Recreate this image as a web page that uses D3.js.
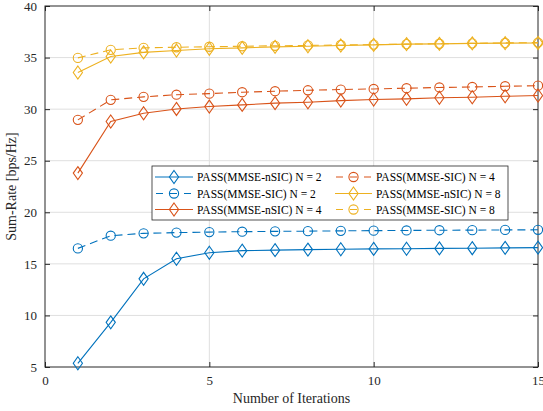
<!DOCTYPE html>
<html><head><meta charset="utf-8">
<script src="https://cdn.jsdelivr.net/npm/d3@7"></script>
<style>body{margin:0;background:#fff}svg{display:block}text{font-family:"Liberation Serif","Times New Roman",serif}</style>
</head><body><svg id="c" width="543" height="411"></svg>
<script>
const iterations = d3.range(1, 16);
const nsicN2 = [5.36,9.33,13.55,15.5,16.08,16.28,16.33,16.38,16.42,16.45,16.47,16.5,16.52,16.55,16.57];
const sicN2  = [16.5,17.73,17.96,18.03,18.08,18.12,18.15,18.17,18.2,18.22,18.24,18.26,18.27,18.29,18.3];
const nsicN4 = [23.8,28.8,29.6,30.02,30.25,30.41,30.58,30.67,30.83,30.93,31.0,31.1,31.15,31.25,31.32];
const sicN4  = [28.96,30.9,31.19,31.4,31.5,31.64,31.74,31.83,31.9,31.96,32.03,32.1,32.15,32.22,32.28];
const nsicN8 = [33.55,35.1,35.5,35.68,35.85,35.94,36.04,36.1,36.17,36.23,36.3,36.33,36.38,36.4,36.42];
const sicN8  = [34.97,35.75,35.94,36.0,36.05,36.1,36.14,36.18,36.22,36.26,36.3,36.34,36.38,36.42,36.45];
const xTicks = [0,5,10,15];
const yTicks = [5,10,15,20,25,30,35,40];

const series = [
  {name:"PASS(MMSE-nSIC) N = 2", v:nsicN2, c:"#0072BD", m:"d", dash:null},
  {name:"PASS(MMSE-SIC) N = 2", v:sicN2, c:"#0072BD", m:"o", dash:"8,5"},
  {name:"PASS(MMSE-nSIC) N = 4", v:nsicN4, c:"#D95319", m:"d", dash:null},
  {name:"PASS(MMSE-SIC) N = 4", v:sicN4, c:"#D95319", m:"o", dash:"8,5"},
  {name:"PASS(MMSE-nSIC) N = 8", v:nsicN8, c:"#EDB120", m:"d", dash:null},
  {name:"PASS(MMSE-SIC) N = 8", v:sicN8, c:"#EDB120", m:"o", dash:"8,5"}
];

const svg = d3.select("#c");
const L=45,R=538,T=6,B=367;
const x = d3.scaleLinear().domain([0,15]).range([L,R]);
const y = d3.scaleLinear().domain([5,40]).range([B,T]);

// grid
svg.append("g").selectAll("line").data(xTicks.slice(1,-1)).join("line")
 .attr("x1",d=>x(d)).attr("x2",d=>x(d)).attr("y1",T).attr("y2",B).attr("stroke","#dfdfdf").attr("stroke-width",1);
svg.append("g").selectAll("line").data(yTicks.slice(1,-1)).join("line")
 .attr("y1",d=>y(d)).attr("y2",d=>y(d)).attr("x1",L).attr("x2",R).attr("stroke","#dfdfdf").attr("stroke-width",1);

// axes
const ax = svg.append("g").attr("transform",`translate(0,${B})`).call(d3.axisBottom(x).tickValues(xTicks).tickSize(-5).tickPadding(9).tickFormat(d3.format("d")));
const ay = svg.append("g").attr("transform",`translate(${L},0)`).call(d3.axisLeft(y).tickValues(yTicks).tickSize(-5).tickPadding(8).tickFormat(d3.format("d")));
const axT = svg.append("g").attr("transform",`translate(0,${T})`).call(d3.axisTop(x).tickValues(xTicks).tickSize(-5).tickFormat(""));
const ayR = svg.append("g").attr("transform",`translate(${R},0)`).call(d3.axisRight(y).tickValues(yTicks).tickSize(-5).tickFormat(""));
[ax,ay,axT,ayR].forEach(g=>{g.select(".domain").remove();g.selectAll("line").attr("stroke","#262626");g.selectAll("text").attr("font-size",13).attr("fill","#262626").attr("font-family","Liberation Serif");});
svg.append("rect").attr("x",L).attr("y",T).attr("width",R-L).attr("height",B-T).attr("fill","none").attr("stroke","#262626").attr("stroke-width",1);

function marker(g,type,cx,cy,c){
  if(type==="o"){
    g.append("circle").attr("cx",cx).attr("cy",cy).attr("r",4.6).attr("fill","none").attr("stroke",c).attr("stroke-width",1.1);
  } else {
    const w=4.6,h=6.5;
    g.append("path").attr("d",`M${cx},${cy-h}L${cx+w},${cy}L${cx},${cy+h}L${cx-w},${cy}Z`).attr("fill","none").attr("stroke",c).attr("stroke-width",1.1);
  }
}

const line = d3.line().x((d,i)=>x(iterations[i])).y(d=>y(d));
series.forEach(s=>{
  const g = svg.append("g");
  g.append("path").attr("d",line(s.v)).attr("fill","none").attr("stroke",s.c).attr("stroke-width",1.1).attr("stroke-dasharray",s.dash);
  s.v.forEach((v,i)=>marker(g,s.m,x(iterations[i]),y(v),s.c));
});

// labels
svg.append("text").attr("x",(L+R)/2).attr("y",403).attr("text-anchor","middle").attr("font-size",14).attr("fill","#262626").text("Number of Iterations");
svg.append("text").attr("transform",`translate(16,${(T+B)/2}) rotate(-90)`).attr("text-anchor","middle").attr("font-size",14).attr("fill","#262626").text("Sum-Rate [bps/Hz]");

// legend
const lg = svg.append("g");
lg.append("rect").attr("x",152).attr("y",166).attr("width",356).attr("height",54).attr("fill","#fff").attr("stroke","#262626").attr("stroke-width",0.8);
const cols=[{x1:155,x2:193,tx:197},{x1:335,x2:372,tx:376}];
const rows=[177,193.5,209.5];
const order=[0,1,2,3,4,5];
order.forEach((si,k)=>{
  const s=series[si];
  const col = k<3?0:1, row = k%3;
  const cy=rows[row], cc=cols[col];
  lg.append("line").attr("x1",cc.x1).attr("x2",cc.x2).attr("y1",cy).attr("y2",cy).attr("stroke",s.c).attr("stroke-width",1.1).attr("stroke-dasharray",s.dash?"7,7":null).attr("stroke-dashoffset",s.dash?-1:0);
  marker(lg,s.m,(cc.x1+cc.x2)/2,cy,s.c);
  lg.append("text").attr("x",cc.tx).attr("y",cy+4).attr("font-size",11.5).attr("fill","#000").text(s.name);
});
</script></body></html>
